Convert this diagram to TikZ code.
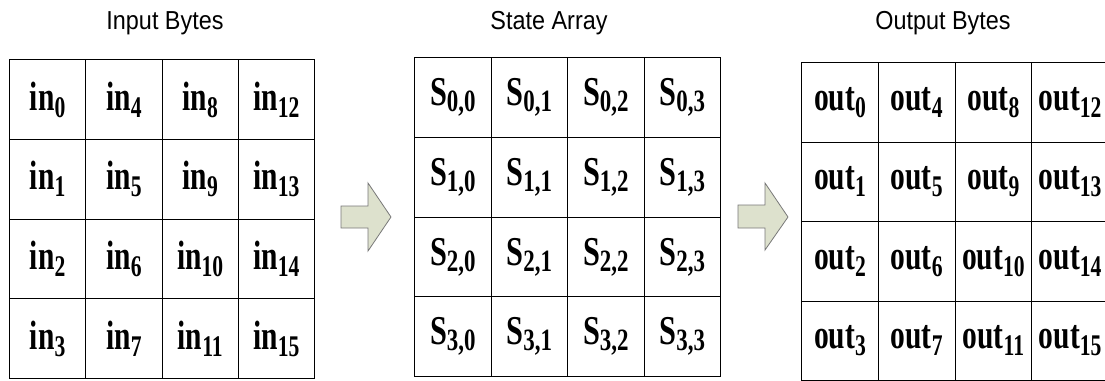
\documentclass[tikz,border=0pt]{standalone}
\usepackage{fontspec}
\setmainfont{Liberation Serif}
\newfontfamily\titlefont{Liberation Sans}
\usepackage{graphicx}
\definecolor{arrowfill}{RGB}{221,225,205}
\definecolor{arrowline}{RGB}{120,120,120}
\newcommand\mylab[2]{\scalebox{0.72}[1]{\fontsize{41}{41}\selectfont\bfseries #1\raisebox{-7pt}{\fontsize{30}{30}\selectfont #2}}}
\newcommand\mystate[2]{\scalebox{0.74}[1]{\fontsize{41}{41}\selectfont\bfseries S\raisebox{-6pt}{\fontsize{31}{31}\selectfont #1,#2}}}
\tikzset{
  cellbox/.style={draw, line width=1.1pt, inner sep=0pt, anchor=north west},
  titletext/.style={font=\titlefont\fontsize{26}{26}\selectfont, inner sep=0pt, xscale=0.9},
  blockarrow/.style={fill=arrowfill, draw=arrowline, line width=0.8pt, line join=miter}
}
\begin{document}
\begin{tikzpicture}[x=1pt,y=-1pt]
\useasboundingbox (0,0) rectangle (1105,380);
\clip (0,0) rectangle (1105,380);
% titles
\node[titletext] (t-in) at (165,23) {Input Bytes};
\node[titletext] (t-st) at (549,23) {State Array};
\node[titletext] (t-out) at (943,23) {Output Bytes};
% input grid
\foreach \c in {0,...,3} \foreach \r in {0,...,3} {
  \pgfmathtruncatemacro\k{4*\c+\r}
  \node[cellbox, minimum width=76.25pt, minimum height=79.75pt] (in-\r-\c) at (9+76.25*\c, 59+79.75*\r) {\mylab{in}{\k}};
}
% state grid
\foreach \c in {0,...,3} \foreach \r in {0,...,3} {
  \node[cellbox, minimum width=76.5pt, minimum height=79.75pt] (s-\r-\c) at (414+76.5*\c, 57+79.75*\r) {\mystate{\r}{\c}};
}
% output grid
\foreach \c in {0,...,3} \foreach \r in {0,...,3} {
  \pgfmathtruncatemacro\k{4*\c+\r}
  \node[cellbox, minimum width=76.75pt, minimum height=79.5pt] (out-\r-\c) at (801+76.75*\c, 62+79.5*\r) {\mylab{out}{\k}};
}
% block arrows
\draw[blockarrow] (341,206) -- (368,206) -- (368,183) -- (391,217) -- (368,251) -- (368,228) -- (341,228) -- cycle;
\draw[blockarrow] (738,205) -- (765,205) -- (765,183) -- (788,217) -- (765,250) -- (765,228) -- (738,228) -- cycle;
\end{tikzpicture}
\end{document}
